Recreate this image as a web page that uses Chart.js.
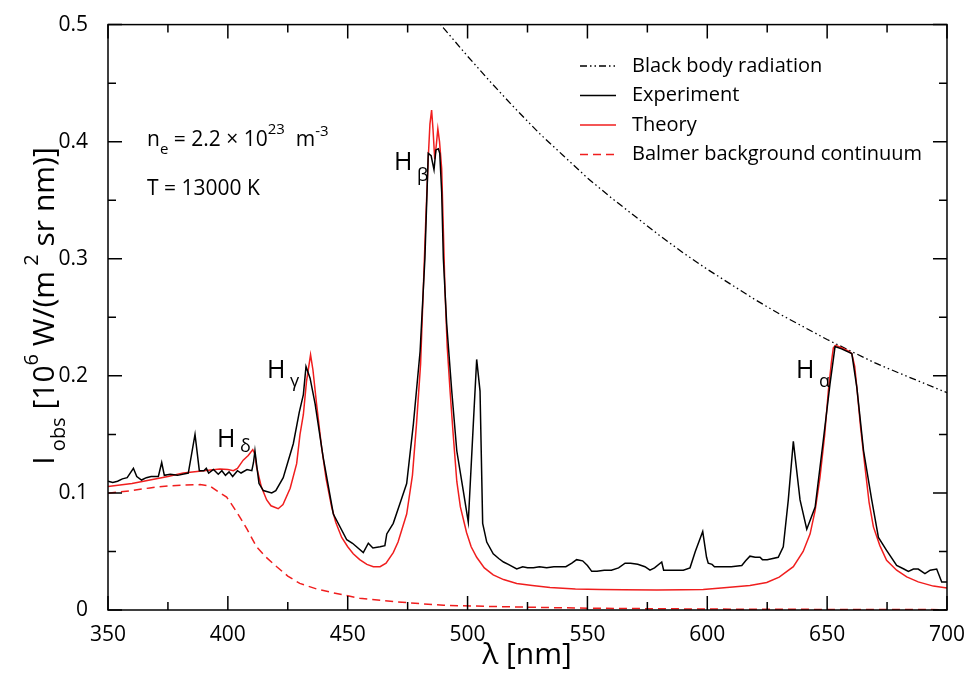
<!DOCTYPE html>
<html>
<head>
<meta charset="utf-8">
<script src="https://cdn.jsdelivr.net/npm/chart.js"></script>
<style>
  html, body { margin: 0; padding: 0; background: #fff; }
  #wrap { width: 969px; height: 673px; }
</style>
</head>
<body>
<div id="wrap"><canvas id="spectrum"></canvas></div>
<script>
// wavelength [nm] / intensity [10^6 W/(m^2 sr nm)]
const expLambda = [350, 352, 354, 356, 358, 360.6, 362, 364, 366, 368, 371, 372.4, 373.5, 376, 379, 383.5, 386.3, 388.1, 390, 391, 392, 394, 396, 397.5, 399, 400.5, 402, 404, 405.5, 408, 410, 410.7, 411.3, 412, 413, 414.8, 418.3, 420, 423.1, 427.3, 429.8, 431.5, 432.6, 434.3, 436.4, 439.8, 444, 449.6, 452, 456.5, 458.6, 460.5, 463.5, 465.5, 466.3, 469, 471.8, 474.6, 477.4, 480.2, 482.2, 483.6, 484.8, 486, 486.8, 487.8, 488.4, 489.2, 489.9, 491.3, 493.4, 495.5, 498.2, 500.3, 502.4, 503.8, 505.2, 506.3, 508, 510.7, 513, 515, 517, 520.5, 523, 525, 527.5, 530, 533, 536, 538.6, 541, 543.5, 545.5, 548, 550, 551.8, 554, 557, 560, 563, 565.7, 568, 571, 574, 576.1, 578, 581, 581.8, 585, 590, 592.8, 595, 598.1, 599.7, 600.4, 602, 603, 605.3, 610, 614.4, 616, 617.8, 620, 622, 623, 625, 629.6, 631.7, 633.8, 635.9, 638.7, 641.5, 645, 648.4, 651.2, 653.3, 656, 660.3, 662.4, 665.2, 668.6, 671.4, 674.8, 679, 682, 683.9, 686, 688, 690.8, 693, 695.7, 697.8, 700];
const expValues = [0.110, 0.109, 0.110, 0.112, 0.113, 0.121, 0.114, 0.111, 0.113, 0.114, 0.114, 0.126, 0.115, 0.116, 0.115, 0.117, 0.150, 0.119, 0.119, 0.121, 0.117, 0.120, 0.116, 0.119, 0.115, 0.118, 0.114, 0.119, 0.117, 0.120, 0.119, 0.126, 0.136, 0.124, 0.108, 0.102, 0.100, 0.102, 0.113, 0.142, 0.169, 0.184, 0.208, 0.198, 0.176, 0.130, 0.082, 0.060, 0.057, 0.049, 0.057, 0.053, 0.054, 0.055, 0.065, 0.074, 0.091, 0.108, 0.159, 0.221, 0.300, 0.390, 0.388, 0.376, 0.393, 0.394, 0.390, 0.357, 0.300, 0.244, 0.187, 0.136, 0.102, 0.075, 0.159, 0.214, 0.187, 0.074, 0.058, 0.048, 0.044, 0.041, 0.039, 0.035, 0.037, 0.036, 0.036, 0.037, 0.036, 0.037, 0.037, 0.037, 0.040, 0.043, 0.042, 0.038, 0.033, 0.033, 0.034, 0.034, 0.036, 0.040, 0.040, 0.039, 0.037, 0.034, 0.036, 0.041, 0.034, 0.034, 0.034, 0.036, 0.050, 0.067, 0.045, 0.040, 0.039, 0.037, 0.037, 0.037, 0.038, 0.042, 0.046, 0.045, 0.045, 0.043, 0.043, 0.045, 0.054, 0.094, 0.144, 0.094, 0.069, 0.088, 0.145, 0.193, 0.225, 0.223, 0.219, 0.190, 0.136, 0.094, 0.062, 0.051, 0.038, 0.035, 0.033, 0.035, 0.035, 0.031, 0.034, 0.035, 0.024, 0.024];

const theoryLambda = [350, 360, 367.5, 375, 381.4, 390, 396.7, 400, 402.3, 404, 406.4, 408.5, 410.4, 411.3, 412, 414, 416.2, 418, 421, 423, 426, 428.7, 430.1, 431.5, 432.8, 434.5, 435.5, 437, 439.1, 441, 443.3, 445, 447.5, 450, 452.3, 455, 458, 460.7, 463.5, 466, 469, 471, 474.6, 477, 478.7, 480.4, 481.5, 482.6, 483.6, 484.3, 485, 485.6, 486.3, 487, 487.6, 488.3, 489.2, 490.6, 491.5, 492.7, 494, 495.5, 497, 499.6, 501.5, 503.8, 507, 510.7, 515, 520.5, 527, 534.4, 545, 555.3, 565, 579, 590, 598.3, 607, 617.8, 624.8, 630, 635.9, 640, 642.9, 645, 647, 649, 650.5, 651.8, 652.6, 653.5, 656, 659, 660.3, 661.5, 662.4, 664, 665.8, 667.5, 669.3, 672, 674.8, 679, 683.2, 688, 694.3, 700];
const theoryValues = [0.1055, 0.108, 0.111, 0.114, 0.117, 0.119, 0.1205, 0.120, 0.119, 0.121, 0.128, 0.132, 0.137, 0.133, 0.122, 0.105, 0.094, 0.089, 0.0865, 0.090, 0.104, 0.125, 0.150, 0.167, 0.195, 0.218, 0.205, 0.176, 0.139, 0.112, 0.088, 0.075, 0.062, 0.054, 0.048, 0.043, 0.039, 0.037, 0.037, 0.040, 0.049, 0.058, 0.082, 0.115, 0.159, 0.210, 0.272, 0.335, 0.386, 0.415, 0.427, 0.410, 0.385, 0.398, 0.411, 0.400, 0.377, 0.272, 0.225, 0.187, 0.150, 0.110, 0.088, 0.066, 0.054, 0.045, 0.036, 0.030, 0.026, 0.0227, 0.021, 0.0193, 0.018, 0.0176, 0.0172, 0.0170, 0.0172, 0.0176, 0.019, 0.021, 0.0235, 0.028, 0.037, 0.050, 0.065, 0.085, 0.113, 0.150, 0.187, 0.212, 0.224, 0.226, 0.224, 0.221, 0.219, 0.208, 0.190, 0.155, 0.122, 0.092, 0.071, 0.055, 0.0425, 0.034, 0.0283, 0.024, 0.0204, 0.0187];

const balmerLambda = [350, 360, 367.5, 375, 382, 388.4, 392.5, 396, 399.5, 402, 405, 408, 412, 416, 420.4, 425, 430, 437, 444, 455, 470, 490, 510, 550, 600, 650, 700];
const balmerValues = [0.0998, 0.102, 0.1043, 0.106, 0.1068, 0.1071, 0.1060, 0.101, 0.0964, 0.089, 0.0794, 0.069, 0.0539, 0.045, 0.0369, 0.029, 0.0227, 0.018, 0.0147, 0.010, 0.007, 0.004, 0.003, 0.0015, 0.0008, 0.0005, 0.0003];

const bbLambda = [480, 490, 500, 510, 520, 530, 540, 550, 560, 570, 580, 590, 600, 610, 620, 630, 640, 650, 660, 670, 680, 690, 700];
const bbValues = [0.523, 0.497, 0.473, 0.450, 0.428, 0.407, 0.388, 0.369, 0.352, 0.336, 0.320, 0.305, 0.291, 0.278, 0.265, 0.253, 0.242, 0.231, 0.221, 0.211, 0.2024, 0.194, 0.1856];

const xTicks = [350, 400, 450, 500, 550, 600, 650, 700];
const yTicks = [0, 0.1, 0.2, 0.3, 0.4, 0.5];

const RED = '#f01e1e';
const FONT = '"Open Sans", "DejaVu Sans", sans-serif';

function pts(xs, ys) {
  return xs.map((x, i) => ({ x: x, y: ys[i] }));
}

// draw a run of text pieces; each piece: [text, sizePx, baselineShift]
function richText(ctx, pieces, x, y, align) {
  let total = 0;
  pieces.forEach(p => {
    ctx.font = p[1] + 'px ' + FONT;
    p.w = ctx.measureText(p[0]).width;
    total += p.w;
  });
  let cx = align === 'center' ? x - total / 2 : x;
  ctx.textAlign = 'left';
  ctx.textBaseline = 'alphabetic';
  pieces.forEach(p => {
    ctx.font = p[1] + 'px ' + FONT;
    ctx.fillText(p[0], cx, y + (p[2] || 0));
    cx += p.w;
  });
}

const decorations = {
  id: 'decorations',
  afterDraw(chart) {
    const ctx = chart.ctx;
    const a = chart.chartArea;
    const xs = chart.scales.x, ys = chart.scales.y;
    ctx.save();
    ctx.strokeStyle = '#000';
    ctx.fillStyle = '#000';
    ctx.lineWidth = 1.5;

    // frame
    ctx.strokeRect(a.left, a.top, a.right - a.left, a.bottom - a.top);

    // inward ticks on all four sides
    ctx.beginPath();
    for (let v = 350; v <= 700; v += 25) {
      const px = xs.getPixelForValue(v);
      const len = v % 50 === 0 ? 14 : 8;
      ctx.moveTo(px, a.bottom); ctx.lineTo(px, a.bottom - len);
      ctx.moveTo(px, a.top); ctx.lineTo(px, a.top + len);
    }
    for (let k = 0; k <= 10; k++) {
      const py = ys.getPixelForValue(k * 0.05);
      const len = k % 2 === 0 ? 14 : 8;
      ctx.moveTo(a.left, py); ctx.lineTo(a.left + len, py);
      ctx.moveTo(a.right, py); ctx.lineTo(a.right - len, py);
    }
    ctx.stroke();

    // y axis title, rotated
    ctx.save();
    ctx.translate(54, 306);
    ctx.rotate(-Math.PI / 2);
    richText(ctx, [
      ['I', 30], [' obs', 20, 11], [' [10', 30], ['6', 20, -16],
      [' W/(m', 30], [' 2', 20, -16], [' sr nm)]', 30]
    ], 0, 0, 'center');
    ctx.restore();

    // x axis title
    ctx.textAlign = 'center';
    ctx.font = '30px ' + FONT;
    ctx.fillText('λ [nm]', 527, 664);

    // plasma parameters
    richText(ctx, [['n', 21], ['e', 15, 8], [' = 2.2 × 10', 21], ['23', 15, -12], ['  m', 21], ['-3', 15, -10]], 147, 146);
    richText(ctx, [['T = 13000 K', 21]], 147, 195);

    // line labels
    richText(ctx, [['H', 25], [' δ', 18, 5]], 217, 447);
    richText(ctx, [['H', 25], [' γ', 18, 9]], 267, 378);
    richText(ctx, [['H', 25], [' β', 18, 11]], 394, 170);
    richText(ctx, [['H', 25], [' α', 18, 9]], 796, 378);

    // legend
    const rows = [0, 1, 2, 3];
    const order = [3, 0, 1, 2];
    rows.forEach(r => {
      const ds = chart.data.datasets[order[r]];
      const y = 66 + r * 29.5;
      ctx.save();
      ctx.strokeStyle = ds.borderColor;
      ctx.lineWidth = ds.borderWidth;
      ctx.setLineDash(ds.borderDash || []);
      ctx.beginPath();
      ctx.moveTo(580, y); ctx.lineTo(616, y);
      ctx.stroke();
      ctx.restore();
      ctx.fillStyle = '#000';
      ctx.font = '20px ' + FONT;
      ctx.textAlign = 'left';
      ctx.textBaseline = 'middle';
      ctx.fillText(ds.label, 632, y);
    });
    ctx.restore();
  }
};

new Chart(document.getElementById('spectrum'), {
  type: 'line',
  data: {
    datasets: [
      {
        label: 'Experiment',
        data: pts(expLambda, expValues),
        borderColor: '#000',
        borderWidth: 1.5
      },
      {
        label: 'Theory',
        data: pts(theoryLambda, theoryValues),
        borderColor: RED,
        borderWidth: 1.5
      },
      {
        label: 'Balmer background continuum',
        data: pts(balmerLambda, balmerValues),
        borderColor: RED,
        borderWidth: 1.5,
        borderDash: [8, 5]
      },
      {
        label: 'Black body radiation',
        data: pts(bbLambda, bbValues),
        borderColor: '#000',
        borderWidth: 1.3,
        borderDash: [7, 3, 1.5, 3, 1.5, 3]
      }
    ]
  },
  options: {
    responsive: true,
    maintainAspectRatio: false,
    animation: false,
    layout: { padding: { left: 0, right: 22, top: 21, bottom: 0 } },
    elements: { point: { radius: 0 }, line: { tension: 0 } },
    plugins: { legend: { display: false }, tooltip: { enabled: false } },
    scales: {
      x: {
        type: 'linear',
        min: 350,
        max: 700,
        afterBuildTicks: s => { s.ticks = xTicks.map(v => ({ value: v })); },
        afterFit: s => { s.height = 63; },
        grid: { display: false },
        border: { display: false },
        ticks: { color: '#000', padding: 4, font: { family: FONT, size: 21 } }
      },
      y: {
        type: 'linear',
        min: 0,
        max: 0.5,
        afterBuildTicks: s => { s.ticks = yTicks.map(v => ({ value: v })); },
        afterFit: s => { s.width = 108; },
        grid: { display: false },
        border: { display: false },
        ticks: {
          color: '#000',
          padding: 12,
          font: { family: FONT, size: 21 },
          callback: v => String(v)
        }
      }
    }
  },
  plugins: [decorations]
});
</script>
</body>
</html>
